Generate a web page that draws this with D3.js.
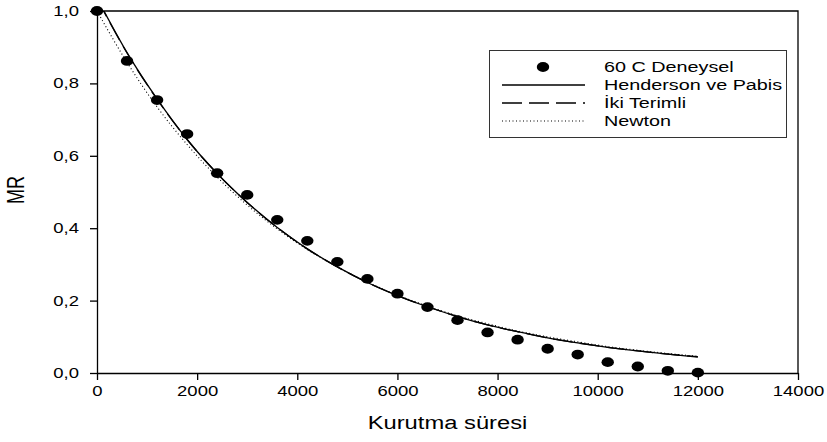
<!DOCTYPE html>
<html>
<head>
<meta charset="utf-8">
<script src="https://cdn.jsdelivr.net/npm/d3@7"></script>
<style>
  body { margin: 0; background: #fff; }
  svg text { font-family: "Liberation Sans", Arial, sans-serif; fill: #000; }
</style>
</head>
<body>
<div id="chart"></div>
<script>
// kurutma süresi (s)
const sure = [0, 600, 1200, 1800, 2400, 3000, 3600, 4200, 4800, 5400, 6000,
  6600, 7200, 7800, 8400, 9000, 9600, 10200, 10800, 11400, 12000]

// 60 C deneysel MR
const deneysel = [1.0, 0.862, 0.754, 0.660, 0.552, 0.492, 0.423, 0.365, 0.307, 0.260, 0.219,
  0.182, 0.146, 0.112, 0.092, 0.067, 0.051, 0.030, 0.018, 0.006, 0.001]

// model curves
const hendersonPabis = [1.036, 0.885, 0.757, 0.645, 0.551, 0.471, 0.402, 0.343, 0.293, 0.250, 0.214,
  0.183, 0.156, 0.133, 0.114, 0.097, 0.083, 0.071, 0.061, 0.052, 0.044]
const ikiTerimli = [1.034, 0.884, 0.756, 0.645, 0.551, 0.471, 0.402, 0.343, 0.293, 0.250, 0.214,
  0.183, 0.156, 0.133, 0.114, 0.097, 0.083, 0.071, 0.061, 0.052, 0.045]
const newton = [1.0, 0.858, 0.735, 0.631, 0.541, 0.464, 0.398, 0.341, 0.293, 0.251, 0.215,
  0.185, 0.158, 0.136, 0.116, 0.100, 0.086, 0.073, 0.063, 0.054, 0.046]

const xTicks = [0, 2000, 4000, 6000, 8000, 10000, 12000, 14000]
const yTicks = [0, 0.2, 0.4, 0.6, 0.8, 1.0]

const legendLabels = ['60 C Deneysel', 'Henderson ve Pabis', 'İki Terimli', 'Newton']

const width = 827; const height = 442
const plotL = 97; const plotR = 798; const plotT = 11; const plotB = 373
const sx = 1.32 // text in the picture is stretched horizontally

const svg = d3.select('#chart').append('svg')
  .attr('width', width).attr('height', height)

const x = d3.scaleLinear().domain([0, 14000]).range([plotL, plotR])
const y = d3.scaleLinear().domain([0, 1]).range([plotB, plotT])

svg.append('defs').append('clipPath').attr('id', 'plot')
  .append('rect')
  .attr('x', plotL).attr('y', plotT)
  .attr('width', plotR - plotL).attr('height', plotB - plotT)

// frame top / right
svg.append('path')
  .attr('d', `M${plotL},${plotT}H${plotR}V${plotB}`)
  .attr('fill', 'none').attr('stroke', '#000').attr('stroke-width', 1.3)

// bottom axis
const xAxis = svg.append('g')
  .attr('transform', `translate(0,${plotB})`)
  .call(d3.axisBottom(x).tickValues(xTicks).tickSize(7).tickSizeOuter(0).tickPadding(6).tickFormat(d3.format('d')))
xAxis.selectAll('text')
  .style('font-size', '14px')
  .attr('transform', `scale(${sx},1)`)

// left axis
const yAxis = svg.append('g')
  .attr('transform', `translate(${plotL},0)`)
  .call(d3.axisLeft(y).tickValues(yTicks).tickSize(7).tickSizeOuter(0)
    .tickFormat(d => d3.format('.1f')(d).replace('.', ',')))
yAxis.selectAll('text')
  .style('font-size', '14px')
  .attr('x', -18 / sx)
  .attr('transform', `scale(${sx},1)`)

svg.selectAll('.domain, .tick line').attr('stroke', '#000').attr('stroke-width', 1.3)

// axis titles
svg.append('text')
  .attr('transform', `translate(${(plotL + plotR) / 2},429) scale(${sx},1)`)
  .attr('text-anchor', 'middle')
  .style('font-size', '18px')
  .text('Kurutma süresi')

svg.append('text')
  .attr('transform', `translate(24,190) rotate(-90) scale(1,${sx})`)
  .attr('text-anchor', 'middle')
  .style('font-size', '18px')
  .text('MR')

// model lines
const line = (vals) => d3.line()
  .x((d, i) => x(sure[i]))
  .y(d => y(d))
  .curve(d3.curveMonotoneX)(vals)

const plot = svg.append('g').attr('clip-path', 'url(#plot)')

plot.append('path').attr('d', line(newton))
  .attr('fill', 'none').attr('stroke', '#000').attr('stroke-width', 1.1)
  .attr('stroke-dasharray', '1,2.5')
plot.append('path').attr('d', line(ikiTerimli))
  .attr('fill', 'none').attr('stroke', '#000').attr('stroke-width', 1.3)
  .attr('stroke-dasharray', '20,7')
plot.append('path').attr('d', line(hendersonPabis))
  .attr('fill', 'none').attr('stroke', '#000').attr('stroke-width', 1.3)

// experimental points
svg.append('g').selectAll('ellipse')
  .data(deneysel)
  .enter().append('ellipse')
  .attr('cx', (d, i) => x(sure[i]))
  .attr('cy', d => y(d))
  .attr('rx', 6.2)
  .attr('ry', 4.9)
  .attr('fill', '#000')

// legend
const legend = svg.append('g')
legend.append('rect')
  .attr('x', 489.5).attr('y', 50.5).attr('width', 297).attr('height', 87)
  .attr('fill', '#fff').attr('stroke', '#333').attr('stroke-width', 1)

const rowY = [67, 85, 103, 121]
legend.append('ellipse')
  .attr('cx', 543).attr('cy', rowY[0]).attr('rx', 6.2).attr('ry', 4.9).attr('fill', '#000')
const dashes = [null, null, '20,7', '1,2.5']
for (let i = 1; i < 4; i++) {
  legend.append('line')
    .attr('x1', 502).attr('x2', 585).attr('y1', rowY[i]).attr('y2', rowY[i])
    .attr('stroke', '#000').attr('stroke-width', i === 3 ? 1.1 : 1.3)
    .attr('stroke-dasharray', dashes[i])
}
legend.selectAll('text.lbl')
  .data(legendLabels)
  .enter().append('text')
  .attr('class', 'lbl')
  .attr('transform', (d, i) => `translate(604,${rowY[i] + 5}) scale(${sx},1)`)
  .style('font-size', '15px')
  .text(d => d)
</script>
</body>
</html>
